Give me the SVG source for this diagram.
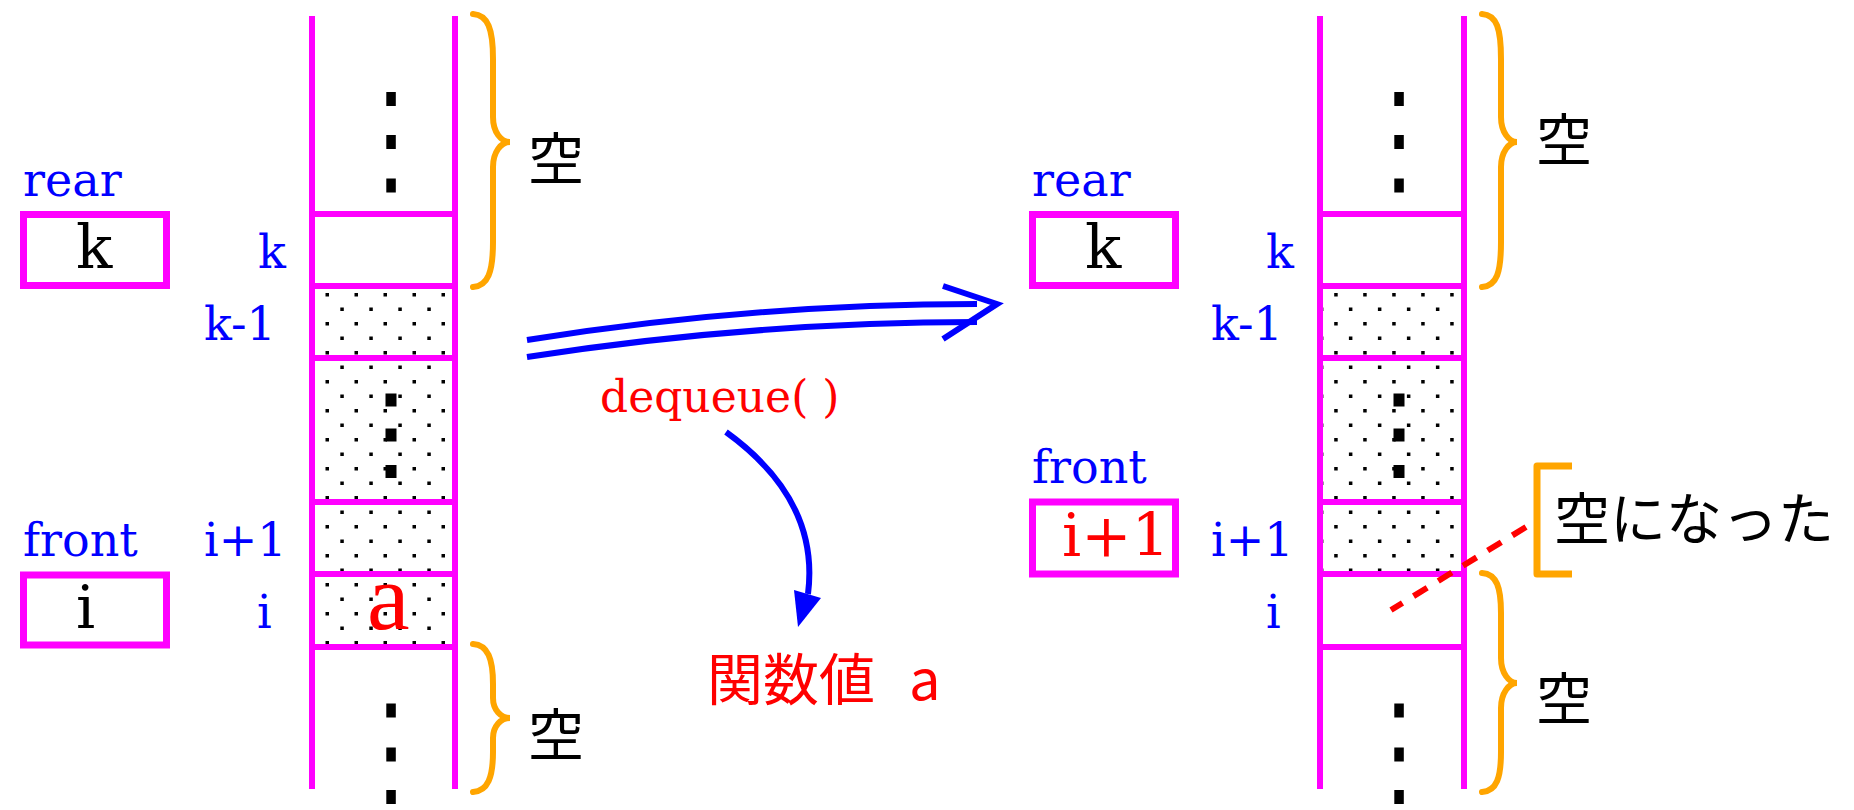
<svg xmlns="http://www.w3.org/2000/svg" width="1854" height="810" viewBox="0 0 1854 810">
<style>
.col{stroke:#FF00FF;stroke-width:6;fill:none}
.box{stroke:#FF00FF;stroke-width:7;fill:none}
.brace{stroke:#FFA500;stroke-width:6;fill:none;stroke-linecap:round}
.lbl{font-family:'DejaVu Serif','Liberation Serif',serif;font-size:46px;fill:#0000FF}
.val{font-family:'DejaVu Serif','Liberation Serif',serif;font-size:60px;fill:#000}
.jp{font-family:'Noto Sans CJK JP',sans-serif;font-size:56px;fill:#000}
.dot{fill:#000}
.arr{stroke:#0000FF;stroke-width:6;fill:none}
</style>
<defs>
<pattern id="stipL" patternUnits="userSpaceOnUse" x="312" y="3" width="29" height="29">
<rect x="13.5" y="0" width="3.5" height="3.5" fill="#000"/>
<rect x="0" y="14.5" width="2.8" height="3.5" fill="#000"/>
<rect x="28.3" y="14.5" width="0.7" height="3.5" fill="#000"/>
</pattern>
<pattern id="stipR" patternUnits="userSpaceOnUse" x="1320" y="3" width="29" height="29">
<rect x="14.2" y="0" width="3.5" height="3.5" fill="#000"/>
<rect x="0" y="14.5" width="3.4" height="3.5" fill="#000"/>
<rect x="28.9" y="14.5" width="0.1" height="3.5" fill="#000"/>
</pattern>
</defs>

<!-- Left queue (before) -->
<g id="queue-before">
<rect x="312" y="286" width="143" height="361" fill="url(#stipL)"/>
<line class="col" x1="312" y1="16" x2="312" y2="789"/>
<line class="col" x1="455" y1="16" x2="455" y2="789"/>
<line class="col" x1="312" y1="214" x2="455" y2="214"/>
<line class="col" x1="312" y1="286" x2="455" y2="286"/>
<line class="col" x1="312" y1="358" x2="455" y2="358"/>
<line class="col" x1="312" y1="502" x2="455" y2="502"/>
<line class="col" x1="312" y1="574" x2="455" y2="574"/>
<line class="col" x1="312" y1="647" x2="455" y2="647"/>
<rect class="dot" x="386.3" y="92" width="9.5" height="14"/>
<rect class="dot" x="386.3" y="135" width="9.5" height="14"/>
<rect class="dot" x="386.3" y="178.5" width="9.5" height="14"/>
<rect class="dot" x="385.5" y="393.5" width="11" height="13"/>
<rect class="dot" x="385.5" y="428.5" width="11" height="13"/>
<rect class="dot" x="385.5" y="465" width="11" height="13"/>
<rect class="dot" x="386.3" y="703.5" width="9.5" height="14"/>
<rect class="dot" x="386.3" y="747.5" width="9.5" height="14"/>
<rect class="dot" x="386.3" y="790" width="9.5" height="14"/>
<text class="lbl" x="258" y="268">k</text>
<text class="lbl" x="204" y="340">k-1</text>
<text class="lbl" x="204" y="556">i+1</text>
<text class="lbl" x="257" y="628">i</text>
<text x="367" y="629" font-family="'Liberation Serif','DejaVu Serif',serif" font-size="96" fill="#FF0000">a</text>
</g>

<g id="brace-before-top">
<path class="brace" d="M473,14 C488,15 493,29 493,59 L493,117 C493,132 501,142 510,142 C501,142 493,152 493,167 L493,242 C493,272 488,286 473,287"/>
<text class="jp" x="528" y="179">空</text>
</g>
<g id="brace-before-bottom">
<path class="brace" d="M473,644 C488,645 493,659 493,684 L493,698 C493,710 501,718 510,718 C501,718 493,726 493,738 L493,752 C493,777 488,791 473,792"/>
<text class="jp" x="528" y="755">空</text>
</g>

<g id="rear-before">
<text class="lbl" x="23" y="196">rear</text>
<rect class="box" x="23.5" y="214.5" width="143" height="71"/>
<text class="val" x="76" y="268">k</text>
</g>
<g id="front-before">
<text class="lbl" x="23" y="556">front</text>
<rect class="box" x="23.5" y="575" width="143" height="70"/>
<text class="val" x="76" y="628">i</text>
</g>

<!-- Right queue (after) -->
<g id="queue-after">
<rect x="1320" y="286" width="144" height="288" fill="url(#stipR)"/>
<line class="col" x1="1320" y1="16" x2="1320" y2="789"/>
<line class="col" x1="1464" y1="16" x2="1464" y2="789"/>
<line class="col" x1="1320" y1="214" x2="1464" y2="214"/>
<line class="col" x1="1320" y1="286" x2="1464" y2="286"/>
<line class="col" x1="1320" y1="358" x2="1464" y2="358"/>
<line class="col" x1="1320" y1="502" x2="1464" y2="502"/>
<line class="col" x1="1320" y1="574" x2="1464" y2="574"/>
<line class="col" x1="1320" y1="647" x2="1464" y2="647"/>
<rect class="dot" x="1394.3" y="92" width="9.5" height="14"/>
<rect class="dot" x="1394.3" y="135" width="9.5" height="14"/>
<rect class="dot" x="1394.3" y="178.5" width="9.5" height="14"/>
<rect class="dot" x="1393.5" y="393.5" width="11" height="13"/>
<rect class="dot" x="1393.5" y="428.5" width="11" height="13"/>
<rect class="dot" x="1393.5" y="465" width="11" height="13"/>
<rect class="dot" x="1394.3" y="703.5" width="9.5" height="14"/>
<rect class="dot" x="1394.3" y="747.5" width="9.5" height="14"/>
<rect class="dot" x="1394.3" y="790" width="9.5" height="14"/>
<text class="lbl" x="1266" y="268">k</text>
<text class="lbl" x="1211" y="340">k-1</text>
<text class="lbl" x="1211" y="556">i+1</text>
<text class="lbl" x="1266" y="628">i</text>
</g>

<g id="brace-after-top">
<path class="brace" d="M1482,14 C1497,15 1501,29 1501,59 L1501,117 C1501,132 1509,142 1517,142 C1509,142 1501,152 1501,167 L1501,242 C1501,272 1497,286 1482,287"/>
<text class="jp" x="1536" y="160">空</text>
</g>
<g id="brace-after-bottom">
<path class="brace" d="M1482,573 C1497,574 1501,588 1501,613 L1501,658 C1501,673 1509,683 1517,683 C1509,683 1501,693 1501,708 L1501,752 C1501,777 1497,791 1482,792"/>
<text class="jp" x="1536" y="719">空</text>
</g>

<g id="rear-after">
<text class="lbl" x="1032" y="196">rear</text>
<rect class="box" x="1032.5" y="214.5" width="143" height="71"/>
<text class="val" x="1085" y="268">k</text>
</g>
<g id="front-after">
<text class="lbl" x="1032" y="483">front</text>
<rect class="box" x="1032.5" y="502" width="143" height="72"/>
<text class="val" x="1062" y="556" style="fill:#FF0000">i+1</text>
</g>

<g id="emptied-note">
<path d="M1572,466 L1537,466 L1537,574 L1572,574" stroke="#FFA500" stroke-width="7" fill="none" stroke-linejoin="round"/>
<text class="jp" x="1554" y="539">空になった</text>
</g>

<g id="connectors">
<path class="arr" d="M527,340 Q753,304 977,304"/>
<path class="arr" d="M527,357 Q753,322 977,322"/>
<polyline class="arr" points="943,286 997,304 943,339" stroke-linejoin="miter"/>
<path class="arr" d="M726,432 Q820,500 808,594"/>
<polygon points="794,590 821,598 798,627" fill="#0000FF"/>
<line x1="1526" y1="527" x2="1391" y2="610" stroke="#FF0000" stroke-width="6" stroke-dasharray="16 13"/>
</g>

<text x="600" y="412" font-family="'DejaVu Serif','Liberation Serif',serif" font-size="44" fill="#FF0000">dequeue( )</text>
<text x="707" y="700" font-family="'Noto Sans CJK JP',sans-serif" font-size="56" fill="#FF0000">関数値 <tspan x="909">a</tspan></text>
</svg>
